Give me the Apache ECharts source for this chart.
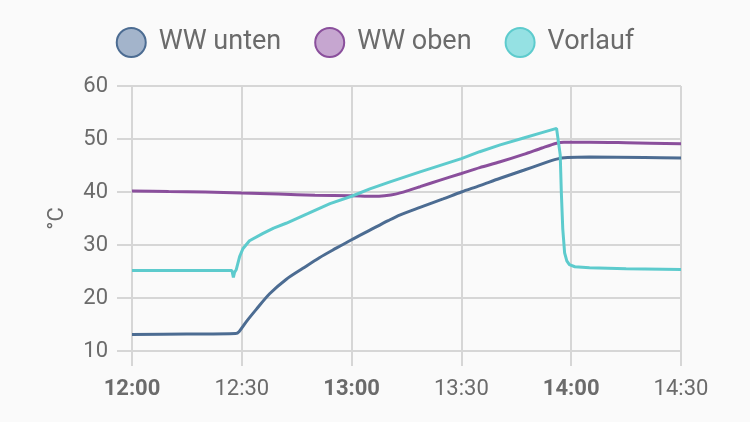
<!DOCTYPE html>
<html>
<head>
<meta charset="utf-8">
<script src="https://cdn.jsdelivr.net/npm/echarts@6/dist/echarts.min.js"></script>
<style>
html,body{margin:0;padding:0;background:#fafafa;}
#c{width:750px;height:422px;}
</style>
</head>
<body>
<div id="c"></div>
<script>
// minutes after 12:00
const seriesNames = ['WW unten', 'WW oben', 'Vorlauf'];
const tickLabels = ['12:00', '12:30', '13:00', '13:30', '14:00', '14:30'];
const boldTicks = ['12:00', '13:00', '14:00'];

const wwUnten = [
  [0,13.1],[15,13.2],[28.3,13.3],[29.3,13.7],[31.2,15.5],[33.9,17.8],[37.6,20.8],[42.1,23.5],
  [46.7,25.6],[51.2,27.6],[55.8,29.4],[60,31.0],[65,32.8],[70,34.6],[73.3,35.7],[78.7,37.1],
  [85,38.7],[90,40.0],[95,41.2],[100.6,42.6],[107,44.1],[112,45.3],[116,46.2],[119,46.5],
  [125,46.6],[140,46.5],[150,46.4]
];
const wwOben = [
  [0,40.2],[10,40.1],[20,40.0],[30,39.8],[40,39.6],[50,39.4],[60,39.3],[66,39.2],[69,39.3],
  [72,39.6],[76,40.4],[78.7,41.0],[84,42.2],[90,43.5],[95,44.6],[100.6,45.7],[107,47.1],[112,48.3],
  [116,49.2],[118,49.4],[125,49.4],[135,49.3],[150,49.1]
];
const vorlauf = [
  [0,25.2],[27.3,25.2],[27.5,25.4],[27.7,23.9],[28.0,24.8],[28.5,25.4],[29.4,27.8],[30.3,29.3],
  [32.1,30.8],[35.8,32.2],[38.7,33.2],[42.1,34.1],[48,35.9],[54.1,37.8],[60,39.2],[65,40.6],
  [70.5,41.9],[78.7,43.8],[90,46.3],[95,47.6],[100.6,48.9],[107,50.2],[112,51.2],
  [116,52.0],[116.5,51.7],[117,47],[117.3,40],[117.7,33],[118.2,28.5],[118.8,27.0],[119.5,26.3],
  [121,25.9],[125,25.7],[135,25.5],[150,25.4]
];

const lineColors = ['#4c6c92', '#8a4f9c', '#5dcbcd'];
const fillColors = ['#a3b4cb', '#c6a6d0', '#95e1e3'];

const chart = echarts.init(document.getElementById('c'));
const gridColor = '#d6d6d6';
const mk = (i, data, sm) => ({
  name: seriesNames[i], type: 'line', data: data, showSymbol: false, symbol: 'none',
  smooth: sm,
  lineStyle: { color: lineColors[i], width: 3 }, itemStyle: { color: lineColors[i] }, z: 3
});
chart.setOption({
  backgroundColor: '#fafafa',
  animation: false,
  textStyle: { fontFamily: 'Roboto' },
  legend: {
    top: 22,
    left: 'center',
    icon: 'circle',
    itemWidth: 29,
    itemHeight: 29,
    itemGap: 33,
    textStyle: { fontSize: 27, color: '#6b6b6b', fontFamily: 'Roboto', padding: [0, 0, 0, 8] },
    data: seriesNames.map((n, i) => ({
      name: n,
      itemStyle: { color: fillColors[i], borderColor: lineColors[i], borderWidth: 2 }
    }))
  },
  grid: { left: 132, right: 69, top: 86, bottom: 71, containLabel: false },
  xAxis: {
    type: 'value', min: 0, max: 150, interval: 30,
    axisLine: { show: true, lineStyle: { color: gridColor, width: 2 } },
    axisTick: { show: true, length: 15, lineStyle: { color: gridColor, width: 2 } },
    splitLine: { show: true, lineStyle: { color: gridColor, width: 2 } },
    axisLabel: {
      margin: 27,
      fontSize: 22,
      color: '#6b6b6b',
      formatter: v => {
        const s = tickLabels[Math.round(v / 30)];
        return boldTicks.includes(s) ? '{b|' + s + '}' : s;
      },
      rich: { b: { fontWeight: 'bold', fontSize: 22, color: '#6b6b6b', fontFamily: 'Roboto' } }
    }
  },
  yAxis: {
    type: 'value', min: 10, max: 60, interval: 10,
    name: '°C', nameLocation: 'middle', nameGap: 64, nameRotate: 90,
    nameTextStyle: { fontSize: 22, color: '#6b6b6b' },
    axisLine: { show: true, lineStyle: { color: gridColor, width: 2 } },
    axisTick: { show: true, length: 15, lineStyle: { color: gridColor, width: 2 } },
    splitLine: { show: true, lineStyle: { color: gridColor, width: 2 } },
    axisLabel: { margin: 24, fontSize: 22, color: '#6b6b6b' }
  },
  series: [
    mk(0, wwUnten, 0.3),
    mk(1, wwOben, 0.3),
    mk(2, vorlauf, false)
  ]
});
</script>
</body>
</html>
